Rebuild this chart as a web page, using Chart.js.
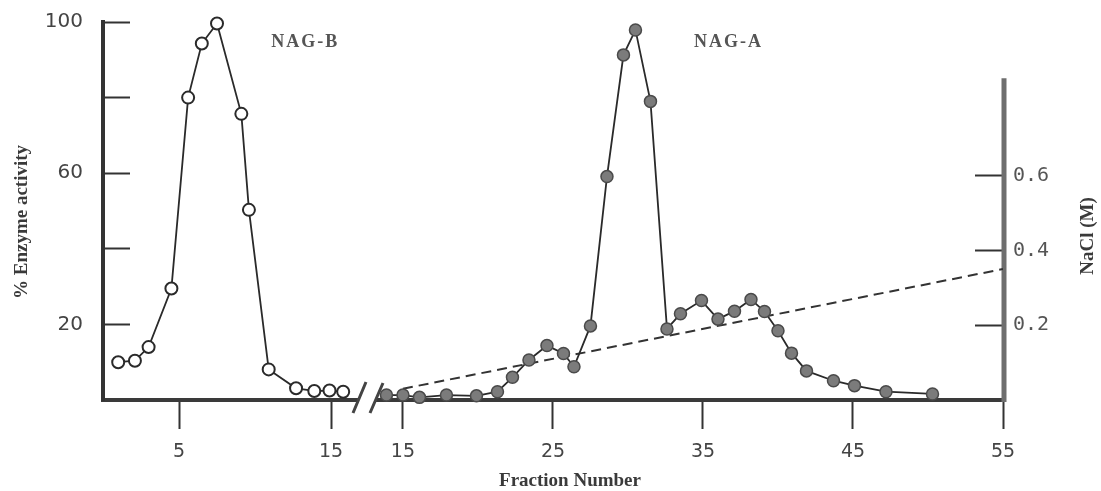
<!DOCTYPE html>
<html>
<head>
<meta charset="utf-8">
<script src="https://cdn.jsdelivr.net/npm/chart.js@4"></script>
<style>
  html, body { margin: 0; padding: 0; background: #fff; }
  #wrap { width: 1101px; height: 491px; position: relative; }
</style>
</head>
<body>
<div id="wrap"><canvas id="chart"></canvas></div>
<script>
// NAG-B peak (left part of the broken fraction axis)
const nagBFraction = [1.0, 2.1, 3.0, 4.5, 5.6, 6.5, 7.5, 9.1, 9.6, 10.9, 12.7, 13.9, 14.9, 15.8];
const nagBActivity = [10, 10.4, 14, 29.5, 80, 94.3, 99.6, 75.7, 50.3, 8.1, 3.1, 2.4, 2.5, 2.2];

// NAG-A peak (right part of the axis)
const nagAFraction = [13.9, 15.0, 16.1, 17.9, 19.9, 21.3, 22.3, 23.4, 24.6, 25.7, 26.4, 27.5, 28.6, 29.7, 30.5,
                      31.5, 32.6, 33.5, 34.9, 36.0, 37.1, 38.2, 39.1, 40.0, 40.9, 41.9, 43.7, 45.1, 47.2, 50.3];
const nagAActivity = [1.3, 1.3, 0.7, 1.3, 1.1, 2.2, 6, 10.6, 14.4, 12.3, 8.8, 19.6, 59.1, 91.3, 97.9,
                      79, 18.8, 22.8, 26.3, 21.4, 23.5, 26.6, 23.4, 18.3, 12.4, 7.7, 5.1, 3.8, 2.2, 1.6];

// NaCl gradient (dashed line)
const naclFraction = [15, 55];
const naclMolar = [0.03, 0.35];

// axes
const activityTicks = [0, 20, 40, 60, 80, 100];
const activityLabels = [20, 60, 100];
const leftFractionTicks = [5, 15];
const rightFractionTicks = [15, 25, 35, 45, 55];
const naclTicks = [0.2, 0.4, 0.6];

const ink = '#2a2a2a';
const tickFont = { family: 'DejaVu Sans', size: 19 };

function points(xs, ys) {
    return xs.map((v, i) => ({ x: v, y: ys[i] }));
}

// axis break, the short NaCl axis line and the titles
const decorations = {
    id: 'decorations',
    beforeDatasetsDraw(chart) {
        const { ctx, scales } = chart;
        const base = scales.y.getPixelForValue(0);
        const split = scales.x.right;
        ctx.save();
        ctx.fillStyle = '#fff';
        ctx.fillRect(split - 12, base - 5, 17, 10);
        ctx.strokeStyle = '#444';
        ctx.lineWidth = 3;
        ctx.beginPath();
        ctx.moveTo(split - 18, base + 13);
        ctx.lineTo(split - 5, base - 18);
        ctx.moveTo(split - 1, base + 13);
        ctx.lineTo(split + 12, base - 17);
        ctx.stroke();

        const y2 = scales.y2;
        ctx.strokeStyle = '#6e6e6e';
        ctx.lineWidth = 5;
        ctx.beginPath();
        ctx.moveTo(y2.left + 1, y2.getPixelForValue(0) + 2);
        ctx.lineTo(y2.left + 1, y2.getPixelForValue(0.86));
        ctx.stroke();
        ctx.restore();
    },
    afterDraw(chart) {
        const { ctx, scales } = chart;
        ctx.save();
        ctx.textAlign = 'center';
        ctx.textBaseline = 'middle';
        ctx.fillStyle = '#3a3a3a';
        ctx.font = 'bold 19px "Liberation Serif"';
        ctx.fillText('Fraction Number', 570, 481);

        ctx.save();
        ctx.translate(22, 222);
        ctx.rotate(-Math.PI / 2);
        ctx.fillText('% Enzyme activity', 0, 0);
        ctx.restore();

        ctx.save();
        ctx.translate(1088, 236);
        ctx.rotate(-Math.PI / 2);
        ctx.fillText('NaCl (M)', 0, 0);
        ctx.restore();

        ctx.fillStyle = '#555';
        ctx.font = 'bold 18px "Liberation Serif"';
        ctx.letterSpacing = '2px';
        ctx.fillText('NAG-B', scales.x.getPixelForValue(13.3), scales.y.getPixelForValue(94.5));
        ctx.fillText('NAG-A', scales.xr.getPixelForValue(36.7), scales.y.getPixelForValue(94.5));
        ctx.restore();
    }
};

const chart = new Chart(document.getElementById('chart'), {
    type: 'line',
    data: {
        datasets: [
            {
                label: 'NAG-B',
                data: points(nagBFraction, nagBActivity),
                xAxisID: 'x',
                yAxisID: 'y',
                clip: 10,
                borderColor: ink,
                borderWidth: 1.8,
                pointRadius: 6,
                pointBackgroundColor: '#fff',
                pointBorderColor: ink,
                pointBorderWidth: 2
            },
            {
                label: 'NAG-A',
                data: points(nagAFraction, nagAActivity),
                xAxisID: 'xr',
                yAxisID: 'y',
                clip: 10,
                borderColor: ink,
                borderWidth: 1.8,
                pointRadius: 6,
                pointBackgroundColor: '#7b7b7b',
                pointBorderColor: '#4a4a4a',
                pointBorderWidth: 1.5
            },
            {
                label: 'NaCl',
                data: points(naclFraction, naclMolar),
                xAxisID: 'xr',
                yAxisID: 'y2',
                borderColor: '#333',
                borderWidth: 2,
                borderDash: [10, 6],
                pointRadius: 0
            }
        ]
    },
    options: {
        responsive: true,
        maintainAspectRatio: false,
        animation: false,
        layout: { padding: { top: 22, left: 0, right: 0, bottom: 0 } },
        plugins: {
            legend: { display: false },
            tooltip: { enabled: false }
        },
        scales: {
            x: {
                type: 'linear',
                position: 'bottom',
                stack: 'fraction',
                stackWeight: 268,
                min: 0,
                max: 17.63,
                afterBuildTicks: s => { s.ticks = leftFractionTicks.map(v => ({ value: v })); },
                afterFit: s => { s.height = 91; s.paddingLeft = 0; s.paddingRight = 0; },
                border: { color: '#3a3a3a', width: 4 },
                grid: { drawOnChartArea: false, tickLength: 29, tickWidth: 2, tickColor: '#333' },
                ticks: { padding: 12, color: '#444', font: tickFont, maxRotation: 0, autoSkip: false }
            },
            xr: {
                type: 'linear',
                position: 'bottom',
                stack: 'fraction',
                stackWeight: 632,
                min: 12.87,
                max: 55,
                afterBuildTicks: s => { s.ticks = rightFractionTicks.map(v => ({ value: v })); },
                afterFit: s => { s.height = 91; s.paddingLeft = 0; s.paddingRight = 0; },
                border: { color: '#3a3a3a', width: 4 },
                grid: { drawOnChartArea: false, tickLength: 29, tickWidth: 2, tickColor: '#333' },
                ticks: { padding: 12, color: '#444', font: tickFont, maxRotation: 0, autoSkip: false }
            },
            y: {
                position: 'left',
                min: 0,
                max: 100,
                afterBuildTicks: s => { s.ticks = activityTicks.map(v => ({ value: v })); },
                afterFit: s => { s.width = 103; s.paddingTop = 0; s.paddingBottom = 0; },
                border: { color: '#333', width: 4 },
                grid: { drawOnChartArea: false, tickLength: -27, tickWidth: 2, tickColor: '#333' },
                ticks: {
                    padding: 47,
                    color: '#444',
                    font: { family: 'DejaVu Sans', size: 20 },
                    callback: v => activityLabels.includes(v) ? String(v) : ''
                }
            },
            y2: {
                position: 'right',
                min: 0,
                max: 1.01,
                afterBuildTicks: s => { s.ticks = naclTicks.map(v => ({ value: v })); },
                afterFit: s => { s.width = 98; s.paddingTop = 0; s.paddingBottom = 0; },
                border: { display: false },
                grid: { drawOnChartArea: false, tickLength: -28, tickWidth: 2, tickColor: '#333' },
                ticks: {
                    padding: 38,
                    color: '#555',
                    font: { family: 'DejaVu Sans Mono', size: 20 },
                    callback: v => v.toFixed(1)
                }
            }
        }
    },
    plugins: [decorations]
});
</script>
</body>
</html>
